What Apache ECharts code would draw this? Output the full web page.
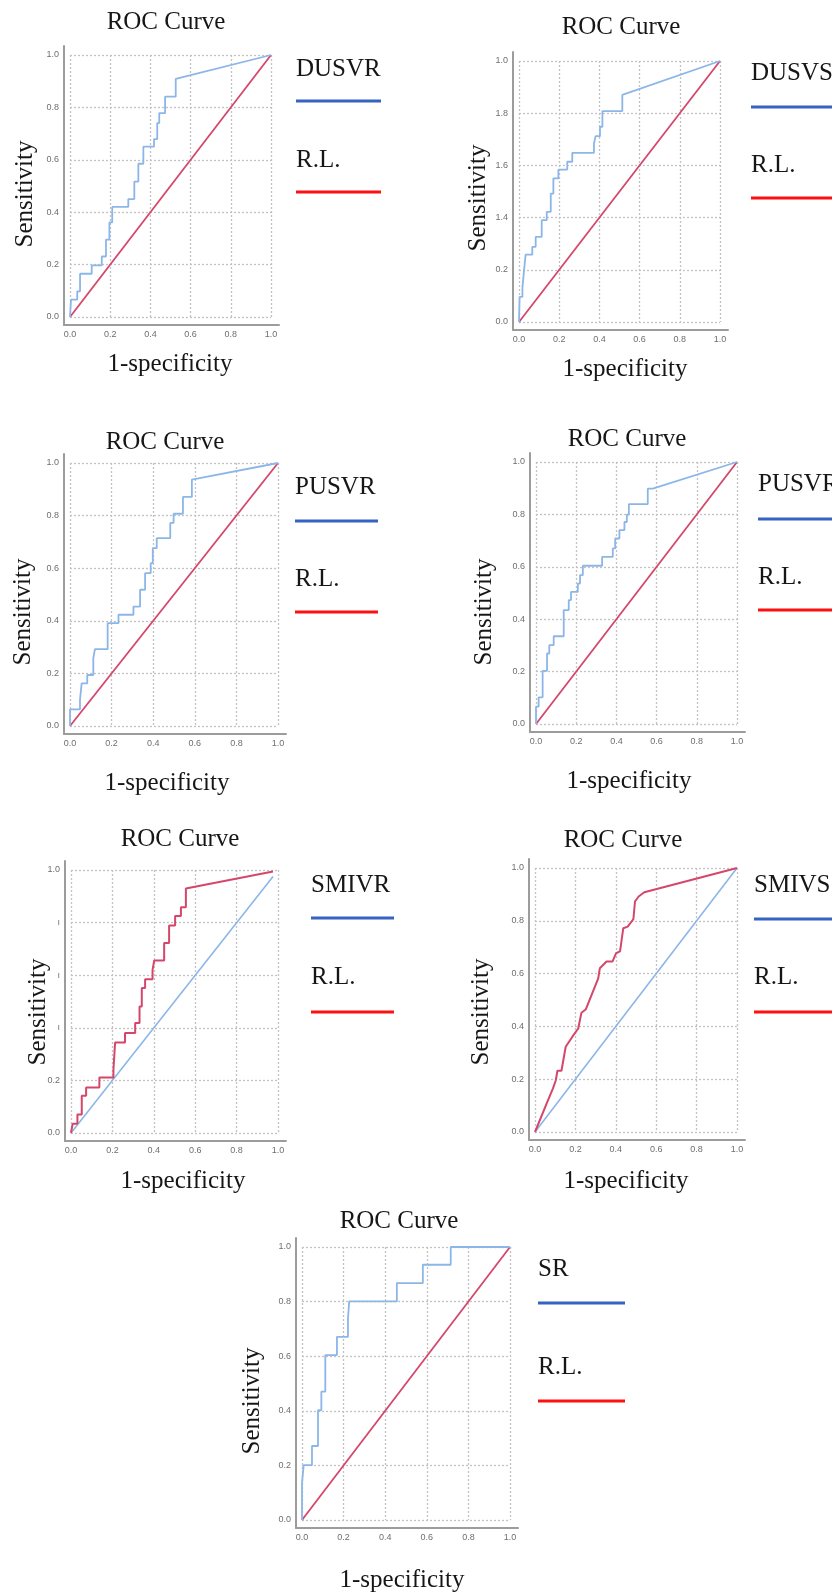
<!DOCTYPE html>
<html>
<head>
<meta charset="utf-8">
<script src="https://cdn.jsdelivr.net/npm/echarts@6/dist/echarts.min.js"></script>
<style>
  html, body { margin: 0; padding: 0; background: #ffffff; }
  #chart { width: 832px; height: 1594px; }
</style>
</head>
<body>
<div id="chart"></div>
<script>
// ---------- DATA ----------
const panelNames = ['DUSVR', 'DUSVS', 'PUSVR', 'PUSVR', 'SMIVR', 'SMIVS', 'SR'];
const refName = 'R.L.';
const titleText = 'ROC Curve';
const xAxisTitle = '1-specificity';
const yAxisTitle = 'Sensitivity';

const xTickLabels = ['0.0', '0.2', '0.4', '0.6', '0.8', '1.0'];
const yTickLabels = ['0.0', '0.2', '0.4', '0.6', '0.8', '1.0'];
const yTickLabelsDUSVS = ['0.0', '0.2', '1.4', '1.6', '1.8', '1.0'];
const yTickLabelsSMIVR = ['0.0', '0.2', 'ı', 'ı', 'ı', '1.0'];

// ROC curves: [1-specificity, sensitivity]
const dusvrRoc = [[0,0],[0.005,0.066],[0.036,0.066],[0.036,0.098],[0.05,0.098],[0.05,0.165],[0.108,0.165],[0.108,0.197],[0.158,0.197],[0.158,0.231],[0.179,0.231],[0.179,0.295],[0.196,0.295],[0.196,0.361],[0.21,0.361],[0.21,0.42],[0.29,0.42],[0.29,0.45],[0.32,0.45],[0.32,0.517],[0.34,0.517],[0.34,0.585],[0.365,0.585],[0.365,0.65],[0.418,0.65],[0.418,0.679],[0.434,0.679],[0.434,0.74],[0.444,0.74],[0.444,0.778],[0.473,0.778],[0.473,0.841],[0.526,0.841],[0.526,0.909],[1,1]];
const dusvsRoc = [[0,0],[0.003,0.096],[0.017,0.096],[0.017,0.132],[0.025,0.132],[0.025,0.198],[0.033,0.198],[0.033,0.258],[0.066,0.258],[0.066,0.288],[0.083,0.288],[0.083,0.326],[0.113,0.326],[0.113,0.39],[0.138,0.39],[0.138,0.422],[0.158,0.422],[0.158,0.492],[0.171,0.492],[0.171,0.55],[0.196,0.55],[0.196,0.584],[0.24,0.584],[0.24,0.614],[0.265,0.614],[0.265,0.648],[0.373,0.648],[0.373,0.684],[0.381,0.684],[0.381,0.712],[0.403,0.712],[0.403,0.748],[0.415,0.748],[0.415,0.808],[0.514,0.808],[0.514,0.87],[1,1]];
const pusvrRocA = [[0,0],[0,0.063],[0.048,0.063],[0.048,0.099],[0.056,0.099],[0.056,0.162],[0.083,0.162],[0.083,0.194],[0.112,0.194],[0.112,0.258],[0.12,0.258],[0.12,0.292],[0.181,0.292],[0.181,0.391],[0.233,0.391],[0.233,0.423],[0.305,0.423],[0.305,0.454],[0.337,0.454],[0.337,0.518],[0.361,0.518],[0.361,0.581],[0.388,0.581],[0.388,0.619],[0.398,0.619],[0.398,0.676],[0.417,0.676],[0.417,0.714],[0.482,0.714],[0.482,0.772],[0.498,0.772],[0.498,0.807],[0.543,0.807],[0.543,0.871],[0.586,0.871],[0.586,0.937],[1,1]];
const pusvrRocB = [[0,0],[0,0.066],[0.013,0.066],[0.013,0.102],[0.033,0.102],[0.033,0.203],[0.055,0.203],[0.055,0.269],[0.066,0.269],[0.066,0.301],[0.088,0.301],[0.088,0.335],[0.138,0.335],[0.138,0.435],[0.163,0.435],[0.163,0.473],[0.174,0.473],[0.174,0.504],[0.208,0.504],[0.208,0.536],[0.219,0.536],[0.219,0.568],[0.233,0.568],[0.233,0.604],[0.329,0.604],[0.329,0.638],[0.382,0.638],[0.382,0.67],[0.394,0.67],[0.394,0.708],[0.415,0.708],[0.415,0.74],[0.44,0.74],[0.44,0.771],[0.452,0.771],[0.452,0.799],[0.462,0.799],[0.462,0.839],[0.556,0.839],[0.556,0.898],[0.581,0.898],[1,1]];
const smivrRoc = [[0,0],[0.008,0.035],[0.031,0.035],[0.031,0.07],[0.052,0.07],[0.052,0.142],[0.073,0.142],[0.073,0.173],[0.137,0.173],[0.137,0.211],[0.205,0.211],[0.205,0.241],[0.213,0.241],[0.213,0.344],[0.261,0.344],[0.261,0.38],[0.31,0.38],[0.31,0.418],[0.331,0.418],[0.331,0.481],[0.342,0.481],[0.342,0.551],[0.358,0.551],[0.358,0.585],[0.394,0.585],[0.394,0.62],[0.402,0.62],[0.402,0.656],[0.45,0.656],[0.45,0.722],[0.474,0.722],[0.474,0.789],[0.503,0.789],[0.503,0.825],[0.531,0.825],[0.531,0.858],[0.555,0.858],[0.555,0.93],[0.976,0.994]];
const smivsRoc = [[0,0],[0.061,0.114],[0.089,0.165],[0.103,0.196],[0.111,0.232],[0.131,0.232],[0.152,0.323],[0.185,0.361],[0.214,0.392],[0.23,0.452],[0.252,0.465],[0.313,0.582],[0.321,0.62],[0.354,0.646],[0.384,0.646],[0.401,0.677],[0.421,0.684],[0.437,0.772],[0.459,0.778],[0.487,0.806],[0.495,0.873],[0.513,0.892],[0.541,0.908],[1,1]];
const srRoc = [[0,0],[0,0.134],[0.008,0.134],[0.008,0.201],[0.048,0.201],[0.048,0.271],[0.077,0.271],[0.077,0.402],[0.093,0.402],[0.093,0.47],[0.112,0.47],[0.112,0.604],[0.168,0.604],[0.168,0.671],[0.221,0.671],[0.221,0.738],[0.227,0.738],[0.227,0.801],[0.456,0.801],[0.456,0.868],[0.581,0.868],[0.581,0.935],[0.715,0.935],[0.715,1],[1,1]];

// reference (diagonal) lines
const refLine = [[0,0],[1,1]];
const refLineSMIVR = [[0,0],[0.976,0.975]];

const rocData = [dusvrRoc, dusvsRoc, pusvrRocA, pusvrRocB, smivrRoc, smivsRoc, srRoc];
const refData = [refLine, refLine, refLine, refLine, refLineSMIVR, refLine, refLine];
const yLabelSets = [yTickLabels, yTickLabelsDUSVS, yTickLabels, yTickLabels, yTickLabelsSMIVR, yTickLabels, yTickLabels];

// ---------- STYLE / LAYOUT ----------
const LIGHT_BLUE = '#8cb6e8';
const CRIMSON = '#d4476b';
const LEG_BLUE = '#3563c1';
const LEG_RED = '#ff1010';
const TEXT = '#161616';
const SERIF = '"Liberation Serif", "Times New Roman", serif';

// swap: panels 5 and 6 draw the ROC in crimson and the diagonal in light blue
const swapColors = [false, false, false, false, true, true, false];

const layout = [
  {x0:70,  x1:271, yT:55,   yB:317,  title:[166,22],  sens:[25,194],  spec:[170,364],  legX:296, legW:85, nameY:69,   blueY:101,  rlY:160,  redY:192},
  {x0:519, x1:720, yT:61,   yB:322,  title:[621,27],  sens:[478,198], spec:[625,369],  legX:751, legW:95, nameY:73,   blueY:107,  rlY:165,  redY:198},
  {x0:70,  x1:278, yT:463,  yB:726,  title:[165,442], sens:[23,612],  spec:[167,783],  legX:295, legW:83, nameY:487,  blueY:521,  rlY:579,  redY:612},
  {x0:536, x1:737, yT:462,  yB:724,  title:[627,439], sens:[484,612], spec:[629,781],  legX:758, legW:90, nameY:484,  blueY:519,  rlY:577,  redY:610},
  {x0:71,  x1:278, yT:870,  yB:1133, title:[180,839], sens:[38,1012], spec:[183,1181], legX:311, legW:83, nameY:885,  blueY:918,  rlY:977,  redY:1012},
  {x0:535, x1:737, yT:868,  yB:1132, title:[623,840], sens:[481,1012],spec:[626,1181], legX:754, legW:90, nameY:885,  blueY:919,  rlY:977,  redY:1012},
  {x0:302, x1:510, yT:1247, yB:1520, title:[399,1221],sens:[252,1401],spec:[402,1580], legX:538, legW:87, nameY:1269, blueY:1303, rlY:1367, redY:1401}
];

const grid = [], xAxis = [], yAxis = [], series = [], graphic = [];

layout.forEach((L, i) => {
  const gData = grid.length;
  grid.push({ left: L.x0, top: L.yT, width: L.x1 - L.x0, height: L.yB - L.yT, containLabel: false });
  const gAxis = grid.length;
  grid.push({ left: L.x0 - 6, top: L.yT - 9, width: (L.x1 + 8) - (L.x0 - 6), height: (L.yB + 8) - (L.yT - 9), containLabel: false });

  const yLabels = yLabelSets[i];
  const split = { show: true, lineStyle: { color: '#c2c2c2', width: 1.3, type: [2, 2] } };

  // data axes (labels + dotted grid)
  const xi = xAxis.length;
  xAxis.push({
    type: 'value', gridIndex: gData, min: 0, max: 1, interval: 0.2,
    axisLine: { show: false }, axisTick: { show: false },
    axisLabel: { margin: 13, fontSize: 9, color: '#6e6e6e', fontFamily: '"Liberation Sans", Arial, sans-serif',
      formatter: v => xTickLabels[Math.round(v / 0.2)] },
    splitLine: split
  });
  const yi = yAxis.length;
  yAxis.push({
    type: 'value', gridIndex: gData, min: 0, max: 1, interval: 0.2,
    axisLine: { show: false }, axisTick: { show: false },
    axisLabel: { margin: 11, fontSize: 9, color: '#6e6e6e', fontFamily: '"Liberation Sans", Arial, sans-serif',
      formatter: v => yLabels[Math.round(v / 0.2)] },
    splitLine: split
  });
  // axis-line frame (left + bottom)
  xAxis.push({
    type: 'value', gridIndex: gAxis, min: 0, max: 1,
    axisLine: { show: true, onZero: false, lineStyle: { color: '#9c9c9c', width: 2 } },
    axisTick: { show: false }, axisLabel: { show: false }, splitLine: { show: false }
  });
  yAxis.push({
    type: 'value', gridIndex: gAxis, min: 0, max: 1,
    axisLine: { show: true, onZero: false, lineStyle: { color: '#9c9c9c', width: 2 } },
    axisTick: { show: false }, axisLabel: { show: false }, splitLine: { show: false }
  });

  const rocColor = swapColors[i] ? CRIMSON : LIGHT_BLUE;
  const refColor = swapColors[i] ? LIGHT_BLUE : CRIMSON;

  series.push({
    name: refName, type: 'line', xAxisIndex: xi, yAxisIndex: yi,
    data: refData[i], showSymbol: false, silent: true, animation: false,
    lineStyle: { color: refColor, width: swapColors[i] ? 1.6 : 1.8 }, z: 3
  });
  series.push({
    name: panelNames[i], type: 'line', xAxisIndex: xi, yAxisIndex: yi,
    data: rocData[i], showSymbol: false, silent: true, animation: false,
    lineStyle: { color: rocColor, width: swapColors[i] ? 2 : 1.8 }, z: 4
  });

  // texts
  const txt = (text, x, y, extra) => Object.assign({
    type: 'text', x: x, y: y, silent: true,
    style: { text: text, font: '25px ' + SERIF, fill: TEXT, textAlign: 'center', textVerticalAlign: 'middle', align: 'center', verticalAlign: 'middle' }
  }, extra || {});
  graphic.push(txt(titleText, L.title[0], L.title[1]));
  graphic.push(txt(xAxisTitle, L.spec[0], L.spec[1]));
  graphic.push(txt(yAxisTitle, L.sens[0], L.sens[1], { rotation: Math.PI / 2 }));

  // custom legend: name over blue line, "R.L." over red line
  const leftTxt = (text, x, y) => ({
    type: 'text', x: x, y: y, silent: true,
    style: { text: text, font: '25px ' + SERIF, fill: TEXT, textAlign: 'left', textVerticalAlign: 'middle', align: 'left', verticalAlign: 'middle' }
  });
  graphic.push(leftTxt(panelNames[i], L.legX, L.nameY));
  graphic.push({ type: 'line', silent: true, shape: { x1: L.legX, y1: L.blueY, x2: L.legX + L.legW, y2: L.blueY }, style: { stroke: LEG_BLUE, lineWidth: 3 } });
  graphic.push(leftTxt(refName, L.legX, L.rlY));
  graphic.push({ type: 'line', silent: true, shape: { x1: L.legX, y1: L.redY, x2: L.legX + L.legW, y2: L.redY }, style: { stroke: LEG_RED, lineWidth: 3 } });
});

const chart = echarts.init(document.getElementById('chart'), null, { renderer: 'canvas' });
chart.setOption({
  backgroundColor: '#ffffff',
  animation: false,
  grid: grid,
  xAxis: xAxis,
  yAxis: yAxis,
  series: series,
  graphic: graphic
});
</script>
</body>
</html>
